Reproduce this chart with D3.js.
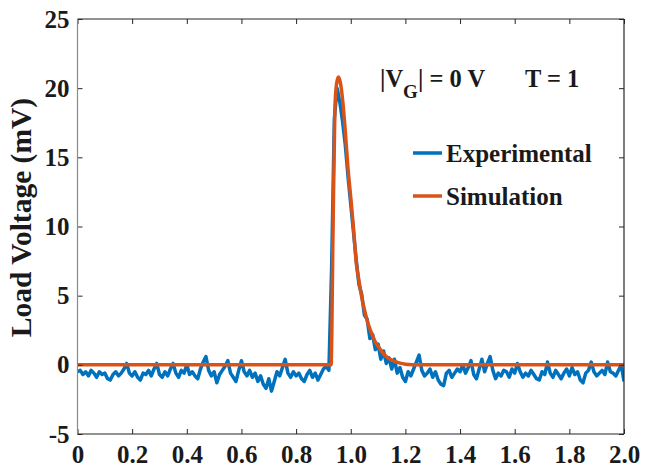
<!DOCTYPE html>
<html>
<head>
<meta charset="utf-8">
<script src="https://cdn.jsdelivr.net/npm/d3@7/dist/d3.min.js"></script>
<style>
  html, body { margin: 0; padding: 0; background: #fff; }
  svg { display: block; }
  text { font-family: "Liberation Serif", "Times New Roman", serif; font-weight: bold; fill: #1a1a1a; }
</style>
</head>
<body>
<svg id="chart" width="646" height="469"></svg>
<script>
// ---- data ----
const xTicks = [0, 0.2, 0.4, 0.6, 0.8, 1.0, 1.2, 1.4, 1.6, 1.8, 2.0];
const xTickLabels = ["0", "0.2", "0.4", "0.6", "0.8", "1.0", "1.2", "1.4", "1.6", "1.8", "2.0"];
const yTicks = [-5, 0, 5, 10, 15, 20, 25];
const yTickLabels = ["-5", "0", "5", "10", "15", "20", "25"];

// Experimental trace sampled every 0.01 from 0 to 2.0
const expStep = 0.01;
const expValues = [
  -0.5, -0.4, -0.7, -0.5, -0.8, -0.4, -0.6, -0.9, -0.5, -0.7,
  -0.6, -1.0, -1.1, -0.7, -0.5, -0.8, -0.6, -0.3, 0.1, -0.6,
  -0.8, -0.5, -0.9, -1.1, -0.6, -0.7, -0.4, -0.8, -0.3, 0.1,
  -0.7, -0.9, -0.5, -0.8, -0.3, 0.1, -0.6, -0.9, -0.4, -0.6,
  0.0, -0.7, -0.5, -0.8, -1.0, -0.3, 0.2, 0.6, -0.4, -0.8,
  -0.5, -1.3, -0.7, -0.4, -0.1, 0.3, -0.6, -0.9, -1.2, -0.4,
  0.3, -0.5, -0.8, -0.4, -0.9, -0.6, -1.2, -0.8, -1.4, -1.7,
  -1.0, -1.9, -1.2, -0.5, -0.8, -0.2, 0.4, -0.6, -0.9, -0.5,
  -0.8, -0.6, -1.0, -1.2, -0.7, -0.4, -0.9, -0.6, -1.1, -0.7,
  -0.3, -0.1, -0.4, 7.0, 17.8, 20.0, 19.0, 17.6, 15.9, 13.6,
  11.6, 9.6, 7.6, 5.8, 5.1, 3.6, 3.3, 1.9, 2.2, 1.1,
  1.5, 0.4, 1.0, 0.1, 0.5, -0.3, 0.4, -0.6, -0.2, -0.9,
  -1.2, -0.5, -0.8, -0.3, 0.2, 0.7, -0.4, -0.8, -0.6, -0.3,
  -0.9, -0.5, -1.1, -1.4, -1.5, -0.6, -0.4, -0.9, -0.6, -0.3,
  -0.5, 0.0, -0.6, -0.2, 0.3, -0.7, -1.0, -0.3, 0.4, -0.5,
  0.1, 0.6, -0.4, -1.0, -0.6, -0.8, -0.4, -0.5, -0.9, -0.3,
  -0.6, 0.1, -0.5, -0.9, -0.6, -0.8, -0.4, -0.7, -1.0, -1.1,
  -0.5, -0.7, 0.2, -0.6, -0.9, -0.4, -0.7, -1.0, -0.6, -0.3,
  -0.8, -0.2, -0.7, -0.5, -1.1, -1.3, -0.6, -0.4, 0.2, -0.5,
  -0.8, -0.6, -0.4, -0.7, 0.2, -0.5, -0.6, -0.8, -0.4, 0.0,
  -1.2
];

// Simulation curve
const simX = [0, 0.928, 0.935, 0.942, 0.948, 0.955, 0.962, 0.97, 0.98, 0.99, 1.00,
              1.01, 1.02, 1.03, 1.04, 1.05, 1.06, 1.07, 1.08, 1.09, 1.10,
              1.11, 1.12, 1.13, 1.14, 1.15, 1.16, 1.18, 1.20, 1.25, 2.0];
const simY = [0, 0, 9.5, 18.5, 20.3, 20.8, 20.4, 19.2, 16.9, 14.2, 12.1,
              9.9, 7.4, 6.1, 4.9, 4.0, 3.2, 2.6, 2.1, 1.65, 1.35,
              1.05, 0.8, 0.6, 0.45, 0.35, 0.25, 0.12, 0.05, 0, 0];

const seriesNames = ["Experimental", "Simulation"];
const seriesColors = ["#0072BD", "#D95319"];
const annotationT = "T = 1";

// ---- layout ----
const svg = d3.select("#chart");
const L = 77.5, R = 624, T = 19, B = 434;
const x = d3.scaleLinear().domain([0, 2]).range([L, R]);
const y = d3.scaleLinear().domain([-5, 25]).range([B, T]);

svg.append("defs").append("clipPath").attr("id", "clip")
  .append("rect").attr("x", L).attr("y", T).attr("width", R - L).attr("height", B - T);

const plot = svg.append("g").attr("clip-path", "url(#clip)");

const expData = expValues.map((v, i) => [i * expStep, v]);
const simData = simX.map((v, i) => [v, simY[i]]);

const line = d3.line().x(d => x(d[0])).y(d => y(d[1]));

plot.append("path").datum(expData)
  .attr("d", line).attr("fill", "none")
  .attr("stroke", seriesColors[0]).attr("stroke-width", 3.5)
  .attr("stroke-linejoin", "round");

plot.append("path").datum(simData)
  .attr("d", d3.line().x(d => x(d[0])).y(d => y(d[1])).curve(d3.curveMonotoneX))
  .attr("fill", "none")
  .attr("stroke", seriesColors[1]).attr("stroke-width", 3.5)
  .attr("stroke-linejoin", "round");

// ---- axes ----
const tickLen = 5;
const axisColor = "#262626";
const axes = svg.append("g");

// bottom axis
const xAxis = d3.axisBottom(x).tickValues(xTicks).tickSize(-tickLen).tickPadding(11)
  .tickFormat((d, i) => xTickLabels[i]);
const gx = axes.append("g").attr("transform", `translate(0,${B})`).call(xAxis);
gx.select(".domain").remove();
gx.selectAll(".tick line").attr("stroke", axisColor);
gx.selectAll(".tick text").attr("font-size", 25).style("font-family", '"Liberation Serif", serif')
  .style("font-weight", "bold").attr("fill", "#1a1a1a");

// top ticks
const xTop = d3.axisTop(x).tickValues(xTicks).tickSize(-tickLen).tickFormat("");
const gxt = axes.append("g").attr("transform", `translate(0,${T})`).call(xTop);
gxt.select(".domain").remove();
gxt.selectAll(".tick line").attr("stroke", axisColor);

// left axis
const yAxis = d3.axisLeft(y).tickValues(yTicks).tickSize(-tickLen).tickPadding(8)
  .tickFormat((d, i) => yTickLabels[i]);
const gy = axes.append("g").attr("transform", `translate(${L},0)`).call(yAxis);
gy.select(".domain").remove();
gy.selectAll(".tick line").attr("stroke", axisColor);
gy.selectAll(".tick text").attr("font-size", 25).style("font-family", '"Liberation Serif", serif')
  .style("font-weight", "bold").attr("fill", "#1a1a1a");

// right ticks
const yRight = d3.axisRight(y).tickValues(yTicks).tickSize(-tickLen).tickFormat("");
const gyr = axes.append("g").attr("transform", `translate(${R},0)`).call(yRight);
gyr.select(".domain").remove();
gyr.selectAll(".tick line").attr("stroke", axisColor);

// box
axes.append("line").attr("x1", L).attr("x2", R).attr("y1", T).attr("y2", T).attr("stroke", axisColor).attr("stroke-width", 1.2);
axes.append("line").attr("x1", L).attr("x2", R).attr("y1", B).attr("y2", B).attr("stroke", axisColor).attr("stroke-width", 1.2);
axes.append("line").attr("x1", R).attr("x2", R).attr("y1", T).attr("y2", B).attr("stroke", axisColor).attr("stroke-width", 1.2);
axes.append("line").attr("x1", L).attr("x2", L).attr("y1", T).attr("y2", B).attr("stroke", "#8a8a8a").attr("stroke-width", 1.2);

// y label
svg.append("text")
  .attr("transform", `translate(31,${(T + B) / 2 - 9}) rotate(-90)`)
  .attr("text-anchor", "middle").attr("font-size", 29.5)
  .text("Load Voltage (mV)");

// annotation
const ann = svg.append("text").attr("x", 380).attr("y", 87).attr("font-size", 24.5);
ann.append("tspan").text("|V");
ann.append("tspan").attr("font-size", 19).attr("dy", 11).text("G");
ann.append("tspan").attr("dy", -11).text("| = 0 V");
svg.append("text").attr("x", 525).attr("y", 87).attr("font-size", 24.5).text(annotationT);

// legend
const legY = [153, 196];
seriesNames.forEach((name, i) => {
  svg.append("line").attr("x1", 413).attr("x2", 442).attr("y1", legY[i]).attr("y2", legY[i])
    .attr("stroke", seriesColors[i]).attr("stroke-width", 3.5);
  svg.append("text").attr("x", 446).attr("y", legY[i] + 9).attr("font-size", 25).text(name);
});
</script>
</body>
</html>
